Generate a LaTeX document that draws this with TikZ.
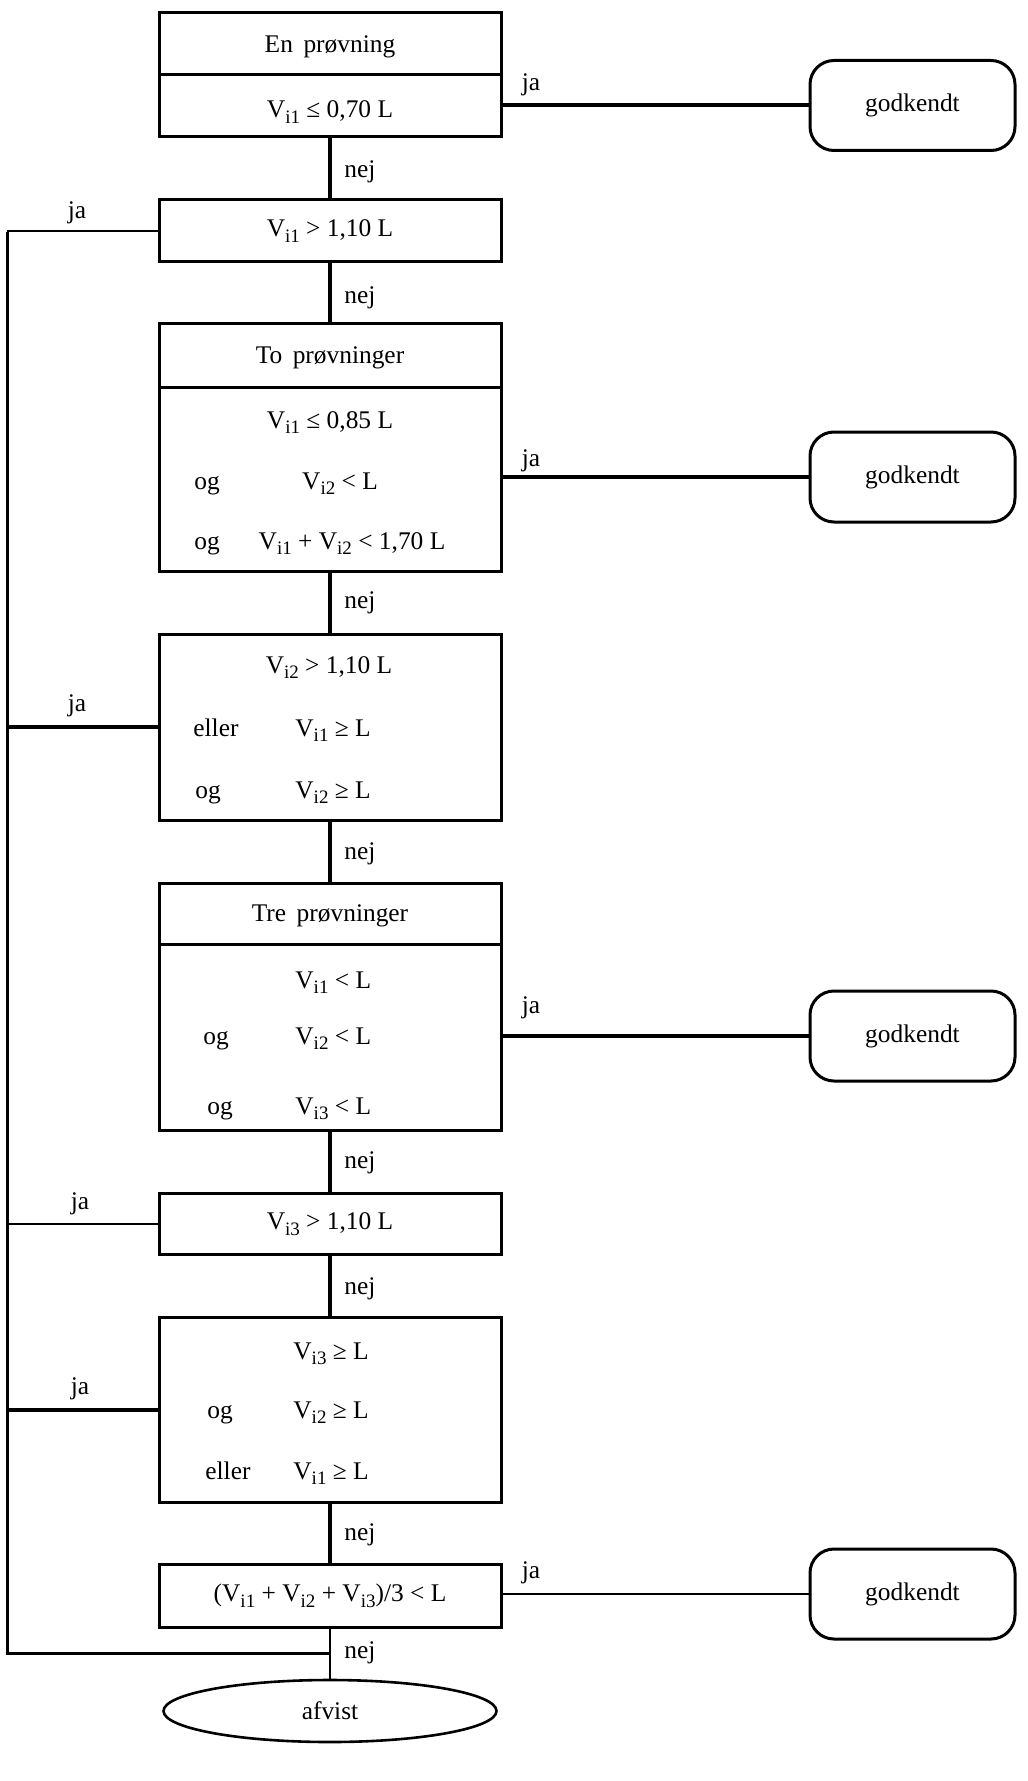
\documentclass[tikz,border=0pt]{standalone}
\usepackage{fontspec}
\setmainfont{Liberation Serif}
\usetikzlibrary{shapes.geometric}
\newcommand\sbs[1]{\raisebox{-0.5ex}{\fontsize{9.5}{10}\selectfont #1}}
\begin{document}
\begin{tikzpicture}[x=0.5pt,y=-0.5pt,
  every node/.style={font=\fontsize{12.7}{15}\selectfont},
  box/.style={draw,line width=1.5pt,minimum width=171pt,inner sep=0pt,text height=9pt,text depth=3pt},
  okbox/.style={draw,line width=1.5pt,rounded corners=12pt,minimum width=102.5pt,minimum height=45pt,inner sep=0pt},
  txt/.style={inner sep=0pt,text height=9pt,text depth=3pt},
  lbl/.style={inner sep=0pt,text height=9pt,text depth=3pt},
  thickline/.style={line width=2pt},
  thinline/.style={line width=1pt},
  busline/.style={line width=1.5pt}
]
\useasboundingbox (0,0) rectangle (1027,1781);
% ---- boxes
\node[box,minimum height=31pt] (b1t) at (330,44) {};
\node[box,minimum height=31pt] (b1c) at (330,106) {};
\node[box,minimum height=31pt] (b2) at (330,231) {V\sbs{i1} > 1,10 L};
\node[box,minimum height=31.5pt] (b3t) at (330,355.5) {};
\node[box,minimum height=92pt] (b3c) at (330,479) {};
\node[box,minimum height=93pt] (b4) at (330,727) {};
\node[box,minimum height=30.5pt] (b5t) at (330,913.5) {};
\node[box,minimum height=93pt] (b5c) at (330,1037) {};
\node[box,minimum height=30.5pt] (b6) at (330,1223.5) {V\sbs{i3} > 1,10 L};
\node[box,minimum height=92.5pt] (b7) at (330,1409.5) {};
\node[box,minimum height=31.5pt] (b8) at (330,1595.5) {(V\sbs{i1} + V\sbs{i2} + V\sbs{i3})/3 < L};
\node[ellipse,draw,line width=1.3pt,minimum width=166.5pt,minimum height=31pt,inner sep=0pt] (af) at (330,1711) {afvist};
% ---- godkendt
\node[okbox] (g1) at (912.5,105.5) {godkendt};
\node[okbox] (g2) at (912.5,477) {godkendt};
\node[okbox] (g3) at (912.5,1036) {godkendt};
\node[okbox] (g4) at (912.5,1594) {godkendt};
% ---- texts inside boxes
\node[txt] (t1a) at (330,47) {En\, prøvning};
\node[txt] (t1b) at (330,112) {V\sbs{i1} ≤ 0,70 L};
\node[txt] (t3t) at (330,358) {To\, prøvninger};
\node[txt] (t3a) at (330,422) {V\sbs{i1} ≤ 0,85 L};
\node[txt] (t3b) at (207,483) {og};
\node[txt] (t3c) at (340,483) {V\sbs{i2} < L};
\node[txt] (t3d) at (207,543) {og};
\node[txt] (t3e) at (352,543) {V\sbs{i1} + V\sbs{i2} < 1,70 L};
\node[txt] (t4a) at (329,667) {V\sbs{i2} > 1,10 L};
\node[txt,anchor=west] (t4b) at (193,730) {eller};
\node[txt,anchor=west] (t4c) at (295,730) {V\sbs{i1} ≥ L};
\node[txt,anchor=west] (t4d) at (195,792) {og};
\node[txt,anchor=west] (t4e) at (295,792) {V\sbs{i2} ≥ L};
\node[txt] (t5t) at (330,915) {Tre\, prøvninger};
\node[txt,anchor=west] (t5a) at (295,982) {V\sbs{i1} < L};
\node[txt,anchor=west] (t5b) at (203,1038) {og};
\node[txt,anchor=west] (t5c) at (295,1038) {V\sbs{i2} < L};
\node[txt,anchor=west] (t5d) at (207,1108) {og};
\node[txt,anchor=west] (t5e) at (295,1108) {V\sbs{i3} < L};
\node[txt,anchor=west] (t7a) at (293,1353) {V\sbs{i3} ≥ L};
\node[txt,anchor=west] (t7b) at (207,1412) {og};
\node[txt,anchor=west] (t7c) at (293,1412) {V\sbs{i2} ≥ L};
\node[txt,anchor=west] (t7d) at (205,1473) {eller};
\node[txt,anchor=west] (t7e) at (293,1473) {V\sbs{i1} ≥ L};
% ---- bus coordinates
\coordinate (bustop) at (7,232);
\coordinate (busbot) at (7,1653);
\coordinate (junc) at (330,1653);
% ---- vertical "nej" connectors
\draw[thickline] (b1c.south) -- (b2.north);
\draw[thickline] (b2.south) -- (b3t.north);
\draw[thickline] (b3c.south) -- (b4.north);
\draw[thickline] (b4.south) -- (b5t.north);
\draw[thickline] (b5c.south) -- (b6.north);
\draw[thickline] (b6.south) -- (b7.north);
\draw[thickline] (b7.south) -- (b8.north);
\draw[line width=1.3pt] (b8.south) -- (af.north);
% ---- right "ja" connectors
\draw[thickline] (g1.west -| b1c.east) -- (g1.west);
\draw[thickline] (g2.west -| b3c.east) -- (g2.west);
\draw[thickline] (g3.west -| b5c.east) -- (g3.west);
\draw[thinline] (g4.west -| b8.east) -- (g4.west);
% ---- left "ja" connectors and bus
\draw[busline] (junc) -- (busbot) -- (bustop);
\draw[thinline] (b2.west) -- (b2.west -| bustop);
\draw[thickline] (b4.west) -- (b4.west -| bustop);
\draw[thinline] (b6.west) -- (b6.west -| bustop);
\draw[thickline] (b7.west) -- (b7.west -| bustop);
% ---- labels
\node[lbl] (n1) at (360,172) {nej};
\node[lbl] (n2) at (360,298) {nej};
\node[lbl] (n3) at (360,602) {nej};
\node[lbl] (n4) at (360,853) {nej};
\node[lbl] (n5) at (360,1162) {nej};
\node[lbl] (n6) at (360,1288) {nej};
\node[lbl] (n7) at (360,1534) {nej};
\node[lbl] (n8) at (360,1652) {nej};
\node[lbl] (j1) at (531,85) {ja};
\node[lbl] (j2) at (531,460) {ja};
\node[lbl] (j3) at (531,1007) {ja};
\node[lbl] (j4) at (531,1572) {ja};
\node[lbl] (j5) at (77,213) {ja};
\node[lbl] (j6) at (77,705) {ja};
\node[lbl] (j7) at (80,1203) {ja};
\node[lbl] (j8) at (80,1388) {ja};
\end{tikzpicture}
\end{document}
